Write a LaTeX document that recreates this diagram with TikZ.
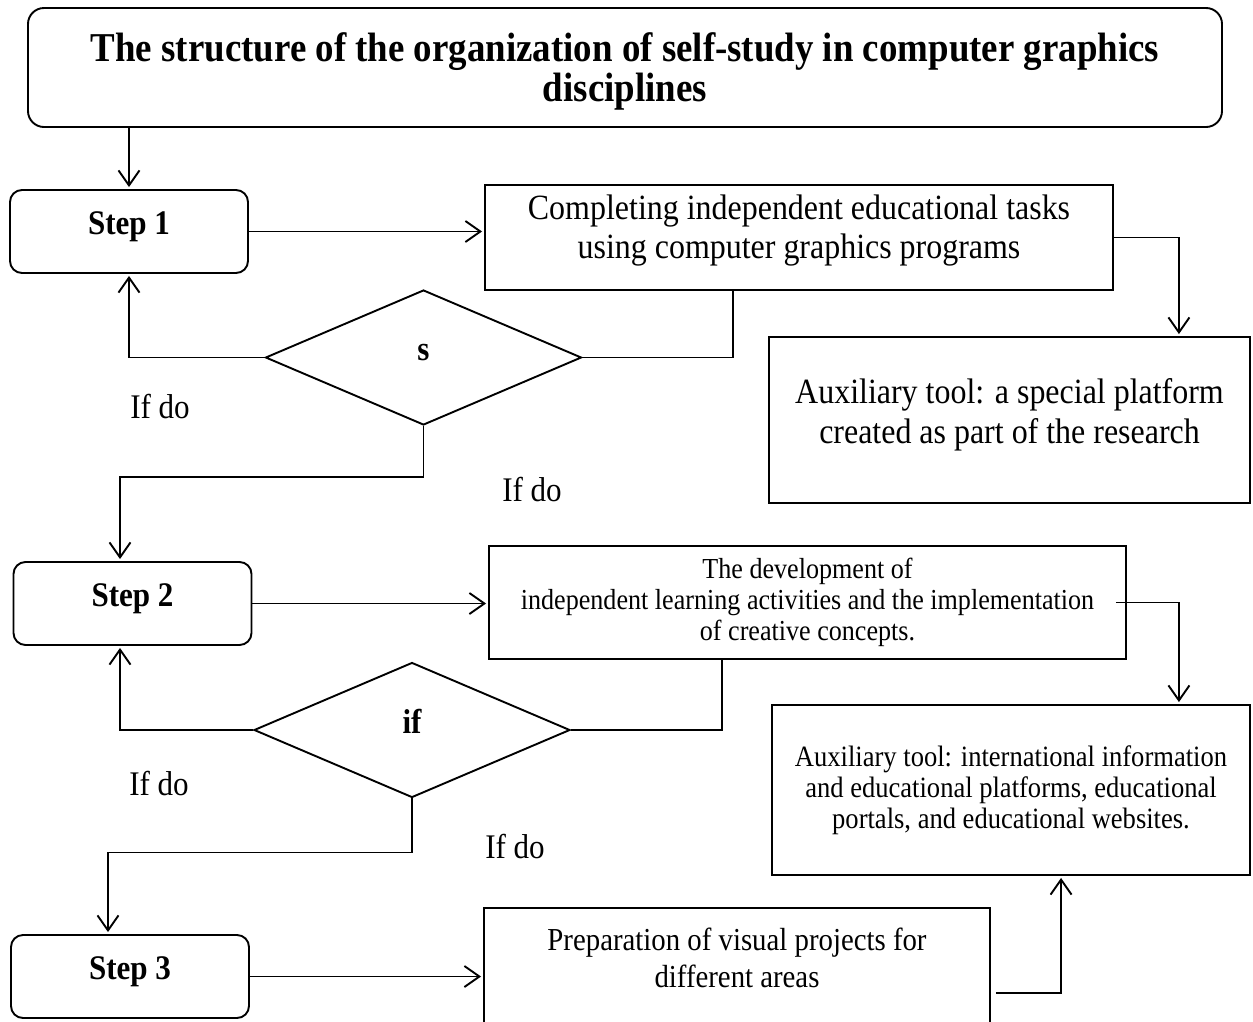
\documentclass[tikz,border=0pt]{standalone}
\usepackage{fontspec}
\setmainfont[FakeStretch=0.9]{Liberation Serif}
\usetikzlibrary{positioning}
\usetikzlibrary{arrows.meta}
\usetikzlibrary{shapes.geometric}
\tikzset{arr/.style = {-{Straight Barb[length=15pt,width=21pt]}, shorten >=2pt}}
\tikzset{titlebox/.style = {draw, rounded corners=16pt, align=center,
                            minimum width=1194pt, minimum height=119pt, text depth=0pt,
                            font=\fontsize{41}{40}\selectfont\bfseries}}
\tikzset{stepbox/.style = {draw, rounded corners=12pt, inner sep=0pt,
                           minimum width=238pt, minimum height=83pt, text depth=17pt,
                           font=\fontsize{34.5}{36}\selectfont\bfseries}}
\tikzset{taskbox/.style = {draw, align=center, inner sep=0pt}}
\tikzset{cond/.style = {draw, diamond, inner sep=0pt,
                        minimum width=316pt, minimum height=135pt,
                        font=\fontsize{34.5}{36}\selectfont\bfseries}}
\tikzset{iflabel/.style = {font=\fontsize{34.5}{36}\selectfont}}
\begin{document}
\begin{tikzpicture}[x=1pt, y=-1pt, line width=1.9pt]
  \useasboundingbox (0,0) rectangle (1253,1021);
  % title
  \node[titlebox] (title) at (625,67.5)
    {The structure of the organization of self-study in computer graphics\\disciplines};

  % steps
  \node[stepbox] (step1) at (129,231.5) {Step 1};
  \node[stepbox] (step2) at (132.5,603.5) {Step 2};
  \node[stepbox] (step3) at (130,976.5) {Step 3};

  % task boxes
  \node[taskbox, minimum width=628pt, minimum height=105pt, text depth=22pt,
        font=\fontsize{35.5}{39}\selectfont] (comp) at (799,237.5)
    {Completing independent educational tasks\\using computer graphics programs};
  \node[taskbox, minimum width=481pt, minimum height=166pt, text depth=18pt,
        font=\fontsize{35.5}{40}\selectfont] (aux1) at (1009.5,420)
    {Auxiliary tool: a special platform\\created as part of the research};
  \node[taskbox, minimum width=637pt, minimum height=113pt,
        font=\fontsize{29}{31}\selectfont] (dev) at (807.5,602.5)
    {The development of\\independent learning activities and the implementation\\of creative concepts.};
  \node[taskbox, minimum width=478pt, minimum height=170pt,
        font=\fontsize{29.5}{31}\selectfont] (aux2) at (1011,790)
    {Auxiliary tool: international information\\and educational platforms, educational\\portals, and educational websites.};
  \node[taskbox, minimum width=506pt, minimum height=125pt] (prep) at (737,970.5) {};
  \node[align=center, font=\fontsize{32}{37}\selectfont] (preptext) at (737,958)
    {Preparation of visual projects for\\different areas};

  % conditions
  \node[cond, text depth=10pt] (d1) at (423.5,357.5) {s};
  \node[cond, text depth=18pt] (d2) at (412,730) {if};
  \node[iflabel] (ifdoA) at (160,407) {If do};
  \node[iflabel] (ifdoB) at (532,490) {If do};
  \node[iflabel] (ifdoC) at (159,784) {If do};
  \node[iflabel] (ifdoD) at (515,847) {If do};

  % connectors
  \draw[arr] (title.south -| step1.north) -- (step1.north);
  \draw[arr] (step1.east) -- (step1.east -| comp.west);
  \draw[arr] (comp.east) -| ([xshift=-72pt]aux1.north east);
  \draw ([xshift=-66pt]comp.south) |- (d1.east);
  \draw[arr] (d1.west) -| (step1.south);
  \draw[arr] (d1.south) -- ++(0,51) -| ([xshift=-12.5pt]step2.north);

  \draw[arr] (step2.east) -- (step2.east -| dev.west);
  \draw[arr] ([xshift=-11pt]dev.east) -| ([xshift=-72pt]aux2.north east);
  \draw ([xshift=-85.5pt]dev.south) |- (d2.east);
  \draw[arr] (d2.west) -| ([xshift=-12.5pt]step2.south);
  \draw[arr] (d2.south) -- ++(0,54) -| ([xshift=-22pt]step3.north);

  \draw[arr] (step3.east) -- (step3.east -| prep.west);
  \draw[arr] ([xshift=5pt,yshift=-22.5pt]prep.east) -| ([xshift=290pt]aux2.south west);
\end{tikzpicture}
\end{document}
